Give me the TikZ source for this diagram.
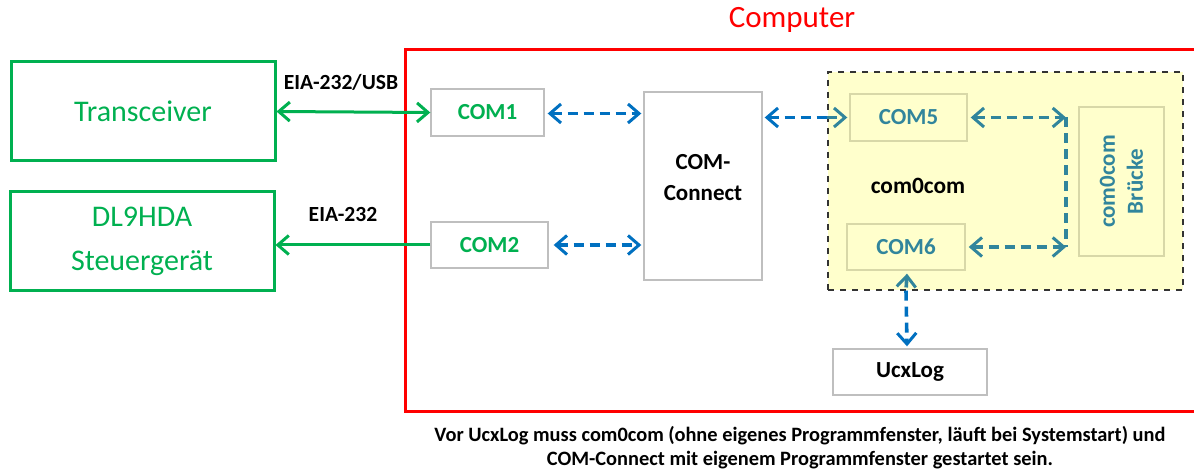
\documentclass[tikz,border=0pt]{standalone}
\usepackage{fontspec}
\setmainfont{Carlito}
\usepackage{tikz}
\usetikzlibrary{calc,arrows.meta,positioning}
\definecolor{grnc}{HTML}{00B050}
\definecolor{bluc}{HTML}{0070C0}
\definecolor{tealc}{HTML}{31859C}
\definecolor{redc}{HTML}{FF0000}
\definecolor{yelbg}{HTML}{FFFFCC}
\definecolor{boxc}{HTML}{BFBFBF}
\definecolor{yboxc}{HTML}{D8D8A8}
\tikzset{
  dev/.style={draw=grnc,line width=1.5pt,text=grnc,align=center,font=\fontsize{15}{22}\selectfont,inner sep=0pt},
  port/.style={draw=boxc,line width=0.7pt,fill=white,align=center,font=\bfseries\fontsize{11.5}{15.5}\selectfont,inner sep=0pt},
  yport/.style={port,draw=yboxc,fill=yelbg,text=tealc},
  lbl/.style={font=\bfseries\fontsize{10.8}{13}\selectfont,inner sep=0pt},
  grar/.style={grnc,line width=1.5pt},
  bluar/.style={bluc,line width=1.8pt,dash pattern=on 5pt off 3pt},
  tealar/.style={bluar,tealc},
  tip/.tip={Straight Barb[length=5.5pt,width=9.5pt,line width=1.5pt]}
}
\begin{document}
\begin{tikzpicture}[x=0.5pt,y=-0.5pt]
\useasboundingbox (0,0) rectangle (1194,470);
% Rechner
\draw[redc,line width=1.5pt] (1200,50) -- (405,50) -- (405,411) -- (1200,411);
\node[text=redc,font=\fontsize{15.5}{18}\selectfont,inner sep=0pt] (comp) at (792,20) {Computer};
% Geraete
\node[dev,minimum width=132pt,minimum height=49.5pt] (trx) at (143,111.5) {Transceiver};
\node[dev,minimum width=132pt,minimum height=49.5pt] (dl9) at (142,241.5) {DL9HDA\\Steuergerät};
% Schnittstellen
\node[port,text=grnc,minimum width=56.5pt,minimum height=23.5pt] (com1) at (487.5,112.5) {COM1};
\node[port,text=grnc,minimum width=58.5pt,minimum height=23pt] (com2) at (489.5,245) {COM2};
\node[port,minimum width=59pt,minimum height=94pt] (cc) at (703,186)
  {\raisebox{3.5pt}[\height][\depth]{\begin{tabular}{@{}c@{}}COM-\\Connect\end{tabular}}};
% com0com
\node[draw=black!80,dashed,line width=0.6pt,fill=yelbg,minimum width=177.5pt,minimum height=109pt] (c0c) at (1005.5,181) {};
\node[lbl,font=\bfseries\fontsize{11.7}{14}\selectfont] (c0ctxt) at (918,186) {com0com};
\node[yport,minimum width=58.5pt,minimum height=23.5pt] (com5) at (908.5,117.5) {COM5};
\node[yport,minimum width=59pt,minimum height=23pt] (com6) at (906,247) {COM6};
\node[yport,font=\bfseries\fontsize{11.5}{14}\selectfont,minimum width=74.5pt,minimum height=42.5pt,rotate=90] (brk) at (1121.5,181.5) {com0com\\Brücke};
\node[port,minimum width=77pt,minimum height=23pt] (ucx) at (910,372) {UcxLog};
% Beschriftungen
\node[lbl] (usb) at (341,82) {EIA-232/USB};
\node[lbl] (eia) at (343,214) {EIA-232};
\node[font=\bfseries\fontsize{10.2}{12}\selectfont,align=center,inner sep=0pt] (note) at (800,448)
  {Vor UcxLog muss com0com (ohne eigenes Programmfenster, läuft bei Systemstart) und\\
   COM-Connect mit eigenem Programmfenster gestartet sein.};
% Verbindungen
\draw[grar,{tip}-{tip}] (trx.east) -- (com1.west);
\draw[grar,-{tip}] (com2.west) -- (com2.west -| dl9.east);
\draw[bluar,{tip}-{tip}] ($(com1.east)+(3,1)$) -- ($(com1.east -| cc.west)+(-2,1)$);
\draw[bluar,{tip}-{tip}] ($(com2.east)+(5,0)$) -- ($(com2.east -| cc.west)+(-2,0)$);
\draw[bluar,{tip}-] ($(cc.east |- com5)+(2,0)$) -- (c0c.west |- com5);
\draw[tealar,-{tip}] (c0c.west |- com5) -- ($(com5.west)+(-2,0)$);
\coordinate (brtop) at (1066,117.5);
\coordinate (brbot) at (1066,247);
\draw[tealar,{tip}-{tip}] ($(com5.east)+(3,0)$) -- (brtop);
\draw[tealar,{tip}-{tip}] ($(com6.east)+(3,0)$) -- (brbot);
\draw[tealar] (brtop) -- (brbot);
\draw[tealar,{tip}-] ($(com6.south)+(1,3)$) -- (com6.south |- c0c.south);
\draw[bluar,-{tip}] (com6.south |- c0c.south) -- ($(com6.south |- ucx.north)+(1,-2)$);
\end{tikzpicture}
\end{document}
